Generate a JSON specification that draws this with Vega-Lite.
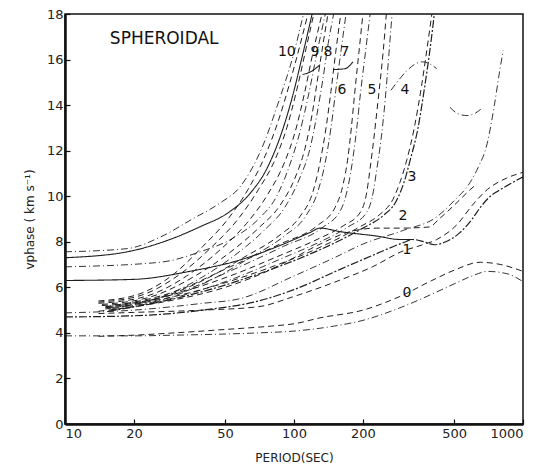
{
"$schema":"https://vega.github.io/schema/vega-lite/v6.json",
"width":458,"height":410,
"autosize":{"type":"none"},
"padding":{"left":65,"top":14,"right":15,"bottom":45},
"background":"white",
"config":{"view":{"stroke":"#111","strokeWidth":1.5},
"axis":{"grid":false,"domainColor":"#111","domainWidth":2.5,"tickColor":"#111","tickWidth":1.2,"labelFont":"DejaVu Sans","labelFontSize":13,"labelColor":"#222","titleFont":"DejaVu Sans","titleFontSize":12,"titleFontWeight":"normal","titleColor":"#222"}},
"datasets":{
"curves":[
{"c":"0A","k":"A","p":10,"v":3.87},{"c":"0A","k":"A","p":20,"v":3.87},{"c":"0A","k":"A","p":30,"v":3.9},{"c":"0A","k":"A","p":50,"v":3.95},{"c":"0A","k":"A","p":70,"v":4.0},{"c":"0A","k":"A","p":100,"v":4.08},{"c":"0A","k":"A","p":150,"v":4.3},{"c":"0A","k":"A","p":200,"v":4.55},{"c":"0A","k":"A","p":290,"v":5.1},{"c":"0A","k":"A","p":400,"v":5.7},{"c":"0A","k":"A","p":500,"v":6.15},{"c":"0A","k":"A","p":600,"v":6.5},{"c":"0A","k":"A","p":700,"v":6.7},{"c":"0A","k":"A","p":850,"v":6.6},{"c":"0A","k":"A","p":1000,"v":6.25},
{"c":"0B","k":"B","p":14,"v":3.85},{"c":"0B","k":"B","p":20,"v":3.9},{"c":"0B","k":"B","p":30,"v":4.0},{"c":"0B","k":"B","p":50,"v":4.15},{"c":"0B","k":"B","p":80,"v":4.3},{"c":"0B","k":"B","p":100,"v":4.4},{"c":"0B","k":"B","p":130,"v":4.66},{"c":"0B","k":"B","p":200,"v":5.0},{"c":"0B","k":"B","p":290,"v":5.6},{"c":"0B","k":"B","p":400,"v":6.3},{"c":"0B","k":"B","p":500,"v":6.75},{"c":"0B","k":"B","p":650,"v":7.1},{"c":"0B","k":"B","p":800,"v":7.0},{"c":"0B","k":"B","p":1000,"v":6.7},
{"c":"1D","k":"D","p":10,"v":4.7},{"c":"1D","k":"D","p":20,"v":4.75},{"c":"1D","k":"D","p":40,"v":5.0},{"c":"1D","k":"D","p":70,"v":5.4},{"c":"1D","k":"D","p":100,"v":5.9},{"c":"1D","k":"D","p":160,"v":6.8},{"c":"1D","k":"D","p":220,"v":7.4},{"c":"1D","k":"D","p":300,"v":7.96},{"c":"1D","k":"D","p":330,"v":8.1},{"c":"1D","k":"D","p":370,"v":8.0},{"c":"1D","k":"D","p":410,"v":7.87},{"c":"1D","k":"D","p":460,"v":8.0},{"c":"1D","k":"D","p":530,"v":8.4},{"c":"1D","k":"D","p":600,"v":9.0},{"c":"1D","k":"D","p":650,"v":9.5},{"c":"1D","k":"D","p":720,"v":10.0},{"c":"1D","k":"D","p":800,"v":10.3},{"c":"1D","k":"D","p":1000,"v":10.85},
{"c":"1B","k":"B","p":14,"v":4.85},{"c":"1B","k":"B","p":20,"v":4.9},{"c":"1B","k":"B","p":40,"v":5.0},{"c":"1B","k":"B","p":70,"v":5.15},{"c":"1B","k":"B","p":100,"v":5.6},{"c":"1B","k":"B","p":160,"v":6.33},{"c":"1B","k":"B","p":220,"v":6.9},{"c":"1B","k":"B","p":300,"v":7.6},{"c":"1B","k":"B","p":360,"v":7.85},{"c":"1B","k":"B","p":420,"v":8.1},{"c":"1B","k":"B","p":520,"v":8.8},{"c":"1B","k":"B","p":600,"v":9.6},{"c":"1B","k":"B","p":700,"v":10.3},{"c":"1B","k":"B","p":850,"v":10.8},{"c":"1B","k":"B","p":1000,"v":11.05},
{"c":"2C","k":"C","p":10,"v":6.3},{"c":"2C","k":"C","p":20,"v":6.35},{"c":"2C","k":"C","p":35,"v":6.7},{"c":"2C","k":"C","p":58,"v":7.2},{"c":"2C","k":"C","p":90,"v":7.9},{"c":"2C","k":"C","p":117,"v":8.4},{"c":"2C","k":"C","p":130,"v":8.6},{"c":"2C","k":"C","p":158,"v":8.45},{"c":"2C","k":"C","p":230,"v":8.25},{"c":"2C","k":"C","p":290,"v":8.1},{"c":"2C","k":"C","p":330,"v":8.1},
{"c":"2B","k":"B","p":14,"v":4.95},{"c":"2B","k":"B","p":20,"v":5.15},{"c":"2B","k":"B","p":30,"v":5.45},{"c":"2B","k":"B","p":50,"v":6.0},{"c":"2B","k":"B","p":80,"v":6.8},{"c":"2B","k":"B","p":100,"v":7.3},{"c":"2B","k":"B","p":130,"v":7.9},{"c":"2B","k":"B","p":170,"v":8.4},{"c":"2B","k":"B","p":230,"v":8.6},{"c":"2B","k":"B","p":290,"v":8.6},{"c":"2B","k":"B","p":390,"v":8.65},{"c":"2B","k":"B","p":430,"v":9.0},{"c":"2B","k":"B","p":500,"v":9.6},{"c":"2B","k":"B","p":590,"v":10.3},{"c":"2B","k":"B","p":630,"v":10.55},
{"c":"2A","k":"A","p":10,"v":4.88},{"c":"2A","k":"A","p":20,"v":5.0},{"c":"2A","k":"A","p":40,"v":5.3},{"c":"2A","k":"A","p":58,"v":5.5},{"c":"2A","k":"A","p":100,"v":6.5},{"c":"2A","k":"A","p":150,"v":7.3},{"c":"2A","k":"A","p":200,"v":7.9},{"c":"2A","k":"A","p":300,"v":8.5},{"c":"2A","k":"A","p":421,"v":9.1},{"c":"2A","k":"A","p":500,"v":9.8},{"c":"2A","k":"A","p":587,"v":10.6},{"c":"2A","k":"A","p":636,"v":11.25},{"c":"2A","k":"A","p":697,"v":12.3},{"c":"2A","k":"A","p":750,"v":14.0},{"c":"2A","k":"A","p":794,"v":15.6},{"c":"2A","k":"A","p":820,"v":16.4},
{"c":"3B","k":"B","p":15,"v":5.05},{"c":"3B","k":"B","p":30,"v":5.6},{"c":"3B","k":"B","p":50,"v":6.2},{"c":"3B","k":"B","p":80,"v":6.9},{"c":"3B","k":"B","p":120,"v":7.6},{"c":"3B","k":"B","p":160,"v":8.2},{"c":"3B","k":"B","p":194,"v":8.66},{"c":"3B","k":"B","p":237,"v":9.2},{"c":"3B","k":"B","p":270,"v":9.85},{"c":"3B","k":"B","p":290,"v":10.6},{"c":"3B","k":"B","p":311,"v":11.6},{"c":"3B","k":"B","p":335,"v":13},{"c":"3B","k":"B","p":360,"v":14.8},{"c":"3B","k":"B","p":380,"v":16.4},{"c":"3B","k":"B","p":400,"v":18},
{"c":"3D","k":"D","p":15.5,"v":4.95},{"c":"3D","k":"D","p":30,"v":5.5},{"c":"3D","k":"D","p":50,"v":6.1},{"c":"3D","k":"D","p":80,"v":6.8},{"c":"3D","k":"D","p":120,"v":7.5},{"c":"3D","k":"D","p":165,"v":8.15},{"c":"3D","k":"D","p":200,"v":8.6},{"c":"3D","k":"D","p":245,"v":9.15},{"c":"3D","k":"D","p":280,"v":9.8},{"c":"3D","k":"D","p":302,"v":10.6},{"c":"3D","k":"D","p":322,"v":11.6},{"c":"3D","k":"D","p":348,"v":13},{"c":"3D","k":"D","p":372,"v":14.8},{"c":"3D","k":"D","p":392,"v":16.4},{"c":"3D","k":"D","p":410,"v":18},
{"c":"4B","k":"B","p":15,"v":5.1},{"c":"4B","k":"B","p":30,"v":5.7},{"c":"4B","k":"B","p":52.6,"v":6.5},{"c":"4B","k":"B","p":86.9,"v":7.4},{"c":"4B","k":"B","p":126,"v":8.1},{"c":"4B","k":"B","p":164,"v":8.7},{"c":"4B","k":"B","p":195,"v":9.3},{"c":"4B","k":"B","p":208,"v":10.2},{"c":"4B","k":"B","p":214.8,"v":11.2},{"c":"4B","k":"B","p":223,"v":12.5},{"c":"4B","k":"B","p":232.8,"v":14.2},{"c":"4B","k":"B","p":244.9,"v":16.3},{"c":"4B","k":"B","p":253,"v":18},
{"c":"4A","k":"A","p":16,"v":5.0},{"c":"4A","k":"A","p":31.5,"v":5.6},{"c":"4A","k":"A","p":55,"v":6.4},{"c":"4A","k":"A","p":90,"v":7.3},{"c":"4A","k":"A","p":130,"v":8.0},{"c":"4A","k":"A","p":172,"v":8.65},{"c":"4A","k":"A","p":208,"v":9.3},{"c":"4A","k":"A","p":222,"v":10.2},{"c":"4A","k":"A","p":230,"v":11.2},{"c":"4A","k":"A","p":240,"v":12.5},{"c":"4A","k":"A","p":250,"v":14.2},{"c":"4A","k":"A","p":260,"v":16.3},{"c":"4A","k":"A","p":268,"v":18},
{"c":"5B","k":"B","p":15,"v":5.15},{"c":"5B","k":"B","p":29.9,"v":5.8},{"c":"5B","k":"B","p":52.6,"v":6.9},{"c":"5B","k":"B","p":86.9,"v":7.9},{"c":"5B","k":"B","p":126,"v":8.7},{"c":"5B","k":"B","p":151,"v":9.5},{"c":"5B","k":"B","p":163.7,"v":10.5},{"c":"5B","k":"B","p":172,"v":11.7},{"c":"5B","k":"B","p":178,"v":13},{"c":"5B","k":"B","p":184,"v":14.5},{"c":"5B","k":"B","p":192,"v":16.3},{"c":"5B","k":"B","p":200,"v":18},
{"c":"5A","k":"A","p":16,"v":5.05},{"c":"5A","k":"A","p":31,"v":5.75},{"c":"5A","k":"A","p":55,"v":6.8},{"c":"5A","k":"A","p":90,"v":7.8},{"c":"5A","k":"A","p":132,"v":8.6},{"c":"5A","k":"A","p":160,"v":9.4},{"c":"5A","k":"A","p":172,"v":10.4},{"c":"5A","k":"A","p":181,"v":11.7},{"c":"5A","k":"A","p":188,"v":13},{"c":"5A","k":"A","p":195,"v":14.5},{"c":"5A","k":"A","p":205,"v":16.3},{"c":"5A","k":"A","p":215,"v":18},
{"c":"6B","k":"B","p":14.5,"v":5.2},{"c":"6B","k":"B","p":25,"v":5.5},{"c":"6B","k":"B","p":40,"v":6.3},{"c":"6B","k":"B","p":60,"v":7.3},{"c":"6B","k":"B","p":86.9,"v":8.3},{"c":"6B","k":"B","p":106,"v":9.1},{"c":"6B","k":"B","p":121,"v":10.2},{"c":"6B","k":"B","p":130,"v":11.5},{"c":"6B","k":"B","p":138,"v":13},{"c":"6B","k":"B","p":145,"v":14.6},{"c":"6B","k":"B","p":152,"v":16.3},{"c":"6B","k":"B","p":160,"v":18},
{"c":"6A","k":"A","p":15.4,"v":5.1},{"c":"6A","k":"A","p":26.5,"v":5.45},{"c":"6A","k":"A","p":42,"v":6.25},{"c":"6A","k":"A","p":63,"v":7.25},{"c":"6A","k":"A","p":92,"v":8.3},{"c":"6A","k":"A","p":112,"v":9.1},{"c":"6A","k":"A","p":127,"v":10.2},{"c":"6A","k":"A","p":137,"v":11.5},{"c":"6A","k":"A","p":145,"v":13},{"c":"6A","k":"A","p":152,"v":14.6},{"c":"6A","k":"A","p":160,"v":16.3},{"c":"6A","k":"A","p":168.7,"v":18},
{"c":"7B","k":"B","p":14.5,"v":5.25},{"c":"7B","k":"B","p":24,"v":5.6},{"c":"7B","k":"B","p":37,"v":6.5},{"c":"7B","k":"B","p":52,"v":7.5},{"c":"7B","k":"B","p":70,"v":8.6},{"c":"7B","k":"B","p":86.9,"v":9.6},{"c":"7B","k":"B","p":101,"v":10.8},{"c":"7B","k":"B","p":111.7,"v":12.1},{"c":"7B","k":"B","p":120,"v":13.6},{"c":"7B","k":"B","p":127,"v":15.2},{"c":"7B","k":"B","p":134,"v":16.7},{"c":"7B","k":"B","p":140.7,"v":18},
{"c":"7A","k":"A","p":15.2,"v":5.15},{"c":"7A","k":"A","p":25,"v":5.5},{"c":"7A","k":"A","p":39,"v":6.4},{"c":"7A","k":"A","p":55,"v":7.4},{"c":"7A","k":"A","p":74,"v":8.5},{"c":"7A","k":"A","p":91,"v":9.5},{"c":"7A","k":"A","p":106,"v":10.8},{"c":"7A","k":"A","p":117.5,"v":12.1},{"c":"7A","k":"A","p":126,"v":13.6},{"c":"7A","k":"A","p":134,"v":15.2},{"c":"7A","k":"A","p":141,"v":16.7},{"c":"7A","k":"A","p":149,"v":18},
{"c":"8B","k":"B","p":14,"v":5.3},{"c":"8B","k":"B","p":22.5,"v":5.6},{"c":"8B","k":"B","p":34,"v":6.5},{"c":"8B","k":"B","p":47,"v":7.6},{"c":"8B","k":"B","p":62,"v":8.8},{"c":"8B","k":"B","p":77,"v":10.1},{"c":"8B","k":"B","p":91,"v":11.5},{"c":"8B","k":"B","p":101,"v":12.8},{"c":"8B","k":"B","p":111,"v":14.5},{"c":"8B","k":"B","p":121,"v":16.3},{"c":"8B","k":"B","p":132.5,"v":18},
{"c":"8A","k":"A","p":10,"v":6.9},{"c":"8A","k":"A","p":26,"v":7.1},{"c":"8A","k":"A","p":38.9,"v":7.56},{"c":"8A","k":"A","p":55,"v":8.2},{"c":"8A","k":"A","p":70,"v":9.0},{"c":"8A","k":"A","p":84,"v":10},{"c":"8A","k":"A","p":96,"v":11.4},{"c":"8A","k":"A","p":106,"v":12.8},{"c":"8A","k":"A","p":116,"v":14.5},{"c":"8A","k":"A","p":126,"v":16.3},{"c":"8A","k":"A","p":137,"v":18},
{"c":"9B","k":"B","p":14,"v":5.35},{"c":"9B","k":"B","p":21.5,"v":5.65},{"c":"9B","k":"B","p":32,"v":6.6},{"c":"9B","k":"B","p":44,"v":7.8},{"c":"9B","k":"B","p":57,"v":9.0},{"c":"9B","k":"B","p":70,"v":10.3},{"c":"9B","k":"B","p":82.6,"v":11.6},{"c":"9B","k":"B","p":93,"v":13},{"c":"9B","k":"B","p":103,"v":14.7},{"c":"9B","k":"B","p":113,"v":16.5},{"c":"9B","k":"B","p":122,"v":18},
{"c":"9C","k":"C","p":10,"v":7.3},{"c":"9C","k":"C","p":18.7,"v":7.56},{"c":"9C","k":"C","p":28.7,"v":8.1},{"c":"9C","k":"C","p":38.9,"v":8.66},{"c":"9C","k":"C","p":52,"v":9.3},{"c":"9C","k":"C","p":64,"v":10.1},{"c":"9C","k":"C","p":76,"v":11.2},{"c":"9C","k":"C","p":87,"v":12.6},{"c":"9C","k":"C","p":98,"v":14.3},{"c":"9C","k":"C","p":109,"v":16.2},{"c":"9C","k":"C","p":120,"v":18},
{"c":"10B","k":"B","p":14,"v":5.4},{"c":"10B","k":"B","p":21,"v":5.7},{"c":"10B","k":"B","p":30,"v":6.6},{"c":"10B","k":"B","p":40,"v":7.8},{"c":"10B","k":"B","p":51.5,"v":9.0},{"c":"10B","k":"B","p":63,"v":10.3},{"c":"10B","k":"B","p":75,"v":11.8},{"c":"10B","k":"B","p":86,"v":13.4},{"c":"10B","k":"B","p":96,"v":15},{"c":"10B","k":"B","p":106,"v":16.6},{"c":"10B","k":"B","p":115,"v":18},
{"c":"10A","k":"A","p":10,"v":7.56},{"c":"10A","k":"A","p":18.7,"v":7.7},{"c":"10A","k":"A","p":26,"v":8.2},{"c":"10A","k":"A","p":36,"v":9.0},{"c":"10A","k":"A","p":47.5,"v":9.7},{"c":"10A","k":"A","p":58,"v":10.4},{"c":"10A","k":"A","p":73,"v":12.2},{"c":"10A","k":"A","p":86,"v":14.2},{"c":"10A","k":"A","p":100,"v":16.3},{"c":"10A","k":"A","p":110,"v":18},
{"c":"k9","k":"C","p":109,"v":15.34},{"c":"k9","k":"C","p":120,"v":15.5},{"c":"k9","k":"C","p":130,"v":15.78},
{"c":"k7","k":"C","p":148,"v":15.56},{"c":"k7","k":"C","p":167,"v":15.6},{"c":"k7","k":"C","p":181,"v":15.9},
{"c":"k4","k":"A","p":265,"v":14.65},{"c":"k4","k":"A","p":365,"v":15.9},{"c":"k4","k":"A","p":393,"v":15.8},{"c":"k4","k":"A","p":420,"v":15.6},
{"c":"arc","k":"A","p":480,"v":13.9},{"c":"arc","k":"A","p":520,"v":13.62},{"c":"arc","k":"A","p":569,"v":13.54},{"c":"arc","k":"A","p":620,"v":13.65},{"c":"arc","k":"A","p":668,"v":13.9}
],
"labels":[
{"t":"10","p":93,"v":16.35},{"t":"9","p":123.6,"v":16.35},{"t":"8","p":140.6,"v":16.35},{"t":"7","p":167,"v":16.35},{"t":"6","p":162,"v":14.68},{"t":"5","p":219,"v":14.68},{"t":"4","p":305,"v":14.68},{"t":"3","p":327,"v":10.86},{"t":"2","p":299,"v":9.14},{"t":"1","p":311,"v":7.65},{"t":"0","p":311,"v":5.76}
],
"title":[{"t":"SPHEROIDAL","p":15.7,"v":16.9}]
},
"layer":[
{"data":{"name":"curves"},"mark":{"type":"line","color":"#1e1e1e","strokeCap":"butt","interpolate":"monotone"},
"encoding":{
"x":{"field":"p","type":"quantitative","scale":{"type":"log","domain":[10,1000]},"axis":{"values":[10,20,50,100,200,500,1000],"format":"d","title":"PERIOD(SEC)","tickSize":-5,"labelPadding":8,"titlePadding":12}},
"y":{"field":"v","type":"quantitative","scale":{"domain":[0,18]},"axis":{"values":[0,2,4,6,8,10,12,14,16,18],"title":"vphase ( km s⁻¹)","tickSize":-5,"labelPadding":7,"titlePadding":10}},
"detail":{"field":"c"},
"strokeDash":{"field":"k","type":"nominal","scale":{"domain":["A","B","C","D"],"range":[[7,3,1,3],[6,4],[1,0],[8,2,2,2]]},"legend":null},
"strokeWidth":{"field":"k","type":"nominal","scale":{"domain":["A","B","C","D"],"range":[0.9,1.2,0.9,1.8]},"legend":null}
}},
{"data":{"name":"labels"},"mark":{"type":"text","font":"DejaVu Sans","fontSize":14,"color":"#111","align":"center","baseline":"middle"},
"encoding":{"x":{"field":"p","type":"quantitative"},"y":{"field":"v","type":"quantitative"},"text":{"field":"t"}}},
{"data":{"name":"title"},"mark":{"type":"text","font":"DejaVu Sans","fontSize":17,"color":"#111","align":"left","baseline":"middle"},
"encoding":{"x":{"field":"p","type":"quantitative"},"y":{"field":"v","type":"quantitative"},"text":{"field":"t"}}}
]
}
